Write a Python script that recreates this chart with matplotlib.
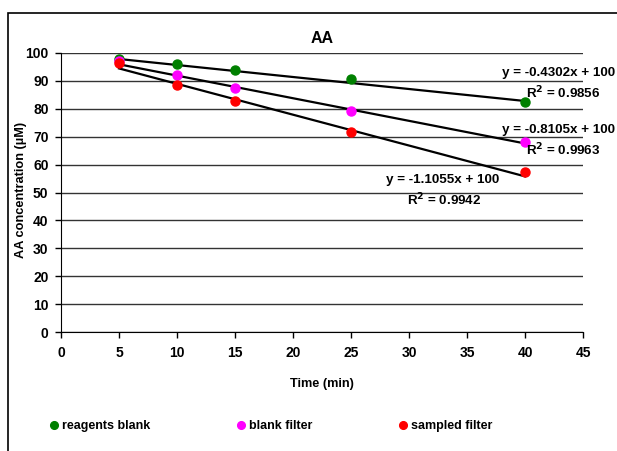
import matplotlib.pyplot as plt
import numpy as np
from matplotlib.patches import Rectangle

plt.rcParams['font.family'] = ['Liberation Sans', 'DejaVu Sans']
plt.rcParams['font.weight'] = 'bold'

time = [5, 10, 15, 25, 40]
reagents_blank = [97.8, 96.2, 93.8, 90.7, 82.3]
blank_filter = [97.2, 92.0, 87.3, 79.2, 68.2]
sampled_filter = [96.3, 88.6, 82.8, 71.6, 57.2]

slopes = [-0.4302, -0.8105, -1.1055]
r2 = [0.9856, 0.9963, 0.9942]
names = ['reagents blank', 'blank filter', 'sampled filter']
colors = ['green', 'magenta', 'red']

fig = plt.figure(figsize=(6.17, 4.51), dpi=100)
ax = fig.add_axes([61/617, 1-332/451, 522/617, 279/451])

# border of the chart area
fig.patches.append(Rectangle((8/617, -0.1), 1.2, 1-13/451+0.1, transform=fig.transFigure,
                             fill=False, edgecolor='black', linewidth=1.2))

series = [reagents_blank, blank_filter, sampled_filter]
xs = np.array([5, 40])
for s, m in zip(series, slopes):
    ax.plot(xs, m*xs + 100, color='black', linewidth=1.6, zorder=2)
for s, c, n in zip(series, colors, names):
    ax.plot(time, s, 'o', color=c, markersize=6.5, label=n, zorder=3)

ax.set_xlim(0, 45)
ax.set_ylim(0, 100)
ax.set_xticks(range(0, 50, 5))
ax.set_yticks(range(0, 110, 10))
ax.yaxis.grid(True, color='#333333', linewidth=1)
ax.set_axisbelow(True)
for sp in ['top', 'right']:
    ax.spines[sp].set_visible(False)
ax.tick_params(labelsize=10, length=4, width=1)
ax.tick_params(axis='x', pad=6)
ax.tick_params(axis='y', pad=5)
ax.set_title('AA', fontsize=11.5, fontweight='bold', pad=7)
ax.set_xlabel('Time (min)', fontsize=9.2, fontweight='bold', labelpad=13)
ax.set_ylabel('AA concentration (\u00b5M)', fontsize=9.2, fontweight='bold')
ax.yaxis.set_label_coords((27-61)/522, 0.51)

eq_pos = [(502, 73, 526, 93), (502, 130, 526, 150), (386, 180, 407, 200)]
for m, r, (x1, y1, x2, y2) in zip(slopes, r2, eq_pos):
    fig.text(x1/617, 1-y1/451, 'y = %.4fx + 100' % m, fontsize=9.6, fontweight='bold', va='center')
    fig.text(x2/617, 1-y2/451, 'R$^2$ = %.4f' % r, fontsize=9.6, fontweight='bold', va='center')

fig.legend(loc='center', bbox_to_anchor=(270/617, 1-426/451), ncol=3, frameon=False,
           fontsize=9, handletextpad=0.1, columnspacing=6.8, markerscale=0.85,
           handlelength=1)

fig.savefig('out.png', dpi=100)
